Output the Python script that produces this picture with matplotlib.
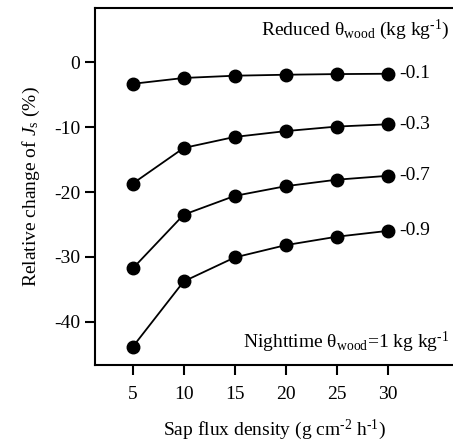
import matplotlib
matplotlib.use('Agg')
import matplotlib.pyplot as plt

# sap flux density (g cm-2 h-1)
flux = [5, 10, 15, 20, 25, 30]

# relative change of Js (%) for each reduced theta_wood
reductions = ['-0.1', '-0.3', '-0.7', '-0.9']
change_01 = [-3.3, -2.4, -2.05, -1.9, -1.8, -1.75]
change_03 = [-18.7, -13.2, -11.5, -10.6, -9.9, -9.55]
change_07 = [-31.8, -23.5, -20.6, -19.1, -18.1, -17.5]
change_09 = [-43.9, -33.8, -30.1, -28.2, -26.9, -26.0]

y_ticks = [0, -10, -20, -30, -40]

plt.rcParams['font.family'] = ['Liberation Serif', 'DejaVu Serif']
plt.rcParams['mathtext.fontset'] = 'custom'
plt.rcParams['mathtext.rm'] = 'Liberation Serif'
plt.rcParams['mathtext.it'] = 'Liberation Serif:italic'
plt.rcParams['axes.unicode_minus'] = False

fs = 14

fig = plt.figure(figsize=(4.53, 4.44), dpi=100)
ax = fig.add_axes([95 / 453, 79 / 444, 358 / 453, 357 / 444])

for vals, lab in zip([change_01, change_03, change_07, change_09], reductions):
    ax.plot(flux, vals, '-o', color='black', lw=1.3, ms=9)
    ax.annotate(lab, (flux[-1], vals[-1]), xytext=(8, 0), textcoords='offset points',
                va='center', ha='left', fontsize=fs)

ax.set_xlim(1.3, 36.4)
ax.set_ylim(-46.7, 8.4)
ax.set_xticks(flux)
ax.set_yticks(y_ticks)
ax.spines['right'].set_visible(False)
for s in ax.spines.values():
    s.set_linewidth(1.5)
ax.tick_params(direction='out', length=7, width=1.5, labelsize=fs)
ax.tick_params(axis='x', pad=8)
ax.tick_params(axis='y', pad=3.5)

ax.set_xlabel('Sap flux density (g cm$^{\\text{-2}}$ h$^{\\text{-1}}$)', fontsize=fs, labelpad=11)
ax.set_ylabel('Relative change of $J_{\\mathrm{s}}$ (%)', fontsize=fs, labelpad=9)

ax.text(0.99, 0.924, 'Reduced θ$_{\\mathrm{wood}}$ (kg kg$^{\\text{-1}}$)', transform=ax.transAxes,
        ha='right', va='baseline', fontsize=fs)
ax.text(0.99, 0.048, 'Nighttime θ$_{\\mathrm{wood}}$=1 kg kg$^{\\text{-1}}$', transform=ax.transAxes,
        ha='right', va='baseline', fontsize=fs)

fig.savefig('out.png', dpi=100)
